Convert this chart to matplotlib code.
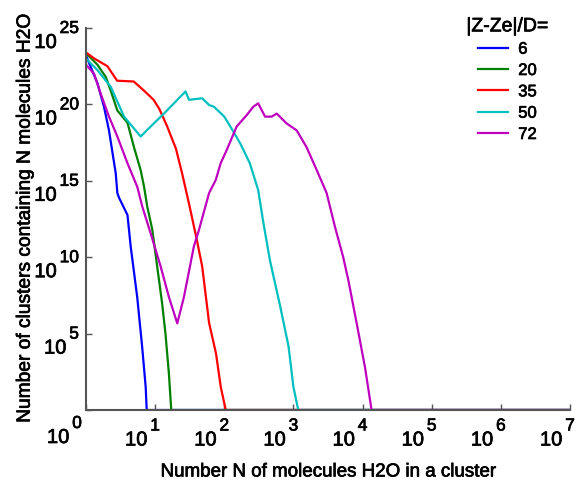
import numpy as np
import matplotlib
matplotlib.use("Agg")
import matplotlib.pyplot as plt
import matplotlib.patheffects as pe

plt.rcParams['font.family'] = ['Liberation Sans', 'DejaVu Sans']

# cluster size N and log10 of number of clusters
n_6 = [1, 1.46, 1.82, 2.15, 2.69, 2.84, 3.0, 3.98, 4.43, 5.5, 6.5, 7.3, 7.55, 1e7]
logc_6 = [23.2, 21.4, 19.85, 18.3, 15.5, 14.2, 13.9, 12.76, 10.7, 7.4, 4.1, 1.5, 0, 0]

n_20 = [1, 1.46, 1.93, 2.28, 2.84, 3.98, 4.94, 6.17, 6.92, 7.7, 9.1, 10.7, 12.6, 14.1, 15.8, 17.1, 1e7]
logc_20 = [23.35, 22.6, 21.8, 20.9, 19.6, 18.8, 17.2, 15.7, 14.6, 13.3, 11.8, 9.4, 7.0, 5.0, 2.4, 0, 0]

n_35 = [1, 1.32, 2.04, 2.82, 4.9, 6.9, 9.5, 11.5, 14.8, 20, 24.5, 31.6, 39.8, 47.9, 60.3, 75.9, 89, 105, 1e7]
logc_35 = [23.4, 23.0, 22.5, 21.55, 21.5, 20.9, 20.3, 19.7, 18.6, 17.1, 15.5, 13.3, 11.2, 9.4, 5.7, 3.7, 1.5, 0, 0]

n_50 = [1, 1.46, 2.28, 3.55, 6.17, 8.6, 13.4, 18.7, 27.5, 30.9, 47.9, 60.3, 70.8, 100, 132, 170, 234, 309,
        363, 457, 646, 851, 1000, 1175, 1e7]
logc_50 = [23.0, 22.25, 21.15, 19.2, 17.9, 18.55, 19.4, 20.07, 20.85, 20.3, 20.4, 19.96, 19.85, 19.2, 18.3,
           17.45, 16.15, 14.4, 12.4, 9.8, 6.75, 4.15, 1.5, 0, 0]

n_72 = [1, 1.31, 1.63, 2.15, 2.84, 3.98, 5.52, 6.53, 8.61, 12.0, 15.8, 20.9, 26.1, 36.3, 43.1, 60.3, 75.2,
        88.7, 108, 151, 211, 263, 309, 389, 485, 573, 794, 1114, 1549, 2173, 3020, 3981, 5248, 6223, 8222,
        10839, 13490, 1e7]
logc_72 = [22.6, 22.0, 20.7, 19.2, 17.9, 16.15, 14.6, 13.3, 11.56, 9.4, 7.4, 5.67, 7.4, 10.7, 11.8, 14.2,
           15.05, 16.15, 17.0, 18.55, 19.3, 19.85, 20.07, 19.2, 19.2, 19.4, 18.76, 18.3, 17.2, 15.7, 14.2,
           12.0, 10.0, 8.5, 5.67, 2.8, 0, 0]

labels = ['6', '20', '35', '50', '72']
colors = ['#0000ff', '#008000', '#ff0000', '#00bfbf', '#bf00bf']
series = [(n_6, logc_6), (n_20, logc_20), (n_35, logc_35), (n_50, logc_50), (n_72, logc_72)]

x_exps = [1, 2, 3, 4, 5, 6, 7]
y_exps = [5, 10, 15, 20, 25]

# slightly heavier text, like the screen rendering of the original
heavy = [pe.withStroke(linewidth=0.5, foreground='black')]

fig = plt.figure(figsize=(5.78, 4.84), dpi=100)
ax = fig.add_axes([86 / 578, 74 / 484, 484 / 578, 382 / 484])

for (n, logc), lab, col in zip(series, labels, colors):
    ax.plot(n, 10.0 ** np.array(logc), color=col, lw=1.6, label=lab)

ax.set_xscale('log')
ax.set_yscale('log')
ax.set_xlim(1, 1e7)
ax.set_ylim(1, 1e25)
ax.set_xticks(10.0 ** np.array([0] + x_exps))
ax.set_yticks(10.0 ** np.array([0] + y_exps))
ax.minorticks_off()
ax.set_xticklabels([])
ax.set_yticklabels([])
ax.tick_params(direction='in', length=4, width=1, colors='#555555')

for side in ['top', 'right']:
    ax.spines[side].set_visible(False)
for side in ['left', 'bottom']:
    ax.spines[side].set_color('#555555')
    ax.spines[side].set_linewidth(1.5)


# MATLAB-style "10" with a large exponent, drawn as two texts per tick
def power_label(xy, coords, exp, dx, dy, ha):
    e = ax.annotate(str(exp), xy=xy, xycoords=coords, xytext=(dx, dy),
                    textcoords='offset pixels', ha=ha, va='baseline', fontsize=12.5,
                    path_effects=heavy)
    ax.annotate('10', xy=(0, 0), xycoords=e, xytext=(-3, -12),
                textcoords='offset pixels', ha='right', va='baseline', fontsize=14.5,
                path_effects=heavy)


for k in x_exps:
    power_label((10.0 ** k, 0), ('data', 'axes fraction'), k, 0, -20.5, 'center')
for k in y_exps:
    power_label((0, 10.0 ** k), ('axes fraction', 'data'), k, -7, -5, 'right')
power_label((0, 0), 'axes fraction', 0, -9, -18, 'center')

ax.set_xlabel('Number N of molecules H2O in a cluster', fontsize=13.5, va='top', path_effects=heavy)
ax.xaxis.set_label_coords(0.5, -0.14)
ax.set_ylabel('Number of clusters containing N molecules H2O', fontsize=13.8, path_effects=heavy)
ax.yaxis.set_label_coords(-0.108, 0.5)

leg = ax.legend(title='|Z-Ze|/D=', frameon=False, fontsize=12, title_fontsize=14,
                loc='upper left', bbox_to_anchor=(458 / 578, 1 - 10 / 484),
                bbox_transform=fig.transFigure, handlelength=1.8, handletextpad=0.6,
                labelspacing=0.38, borderpad=0)
leg.get_title().set_path_effects(heavy)
for t in leg.get_texts():
    t.set_path_effects(heavy)

fig.savefig('out.png', dpi=100)
